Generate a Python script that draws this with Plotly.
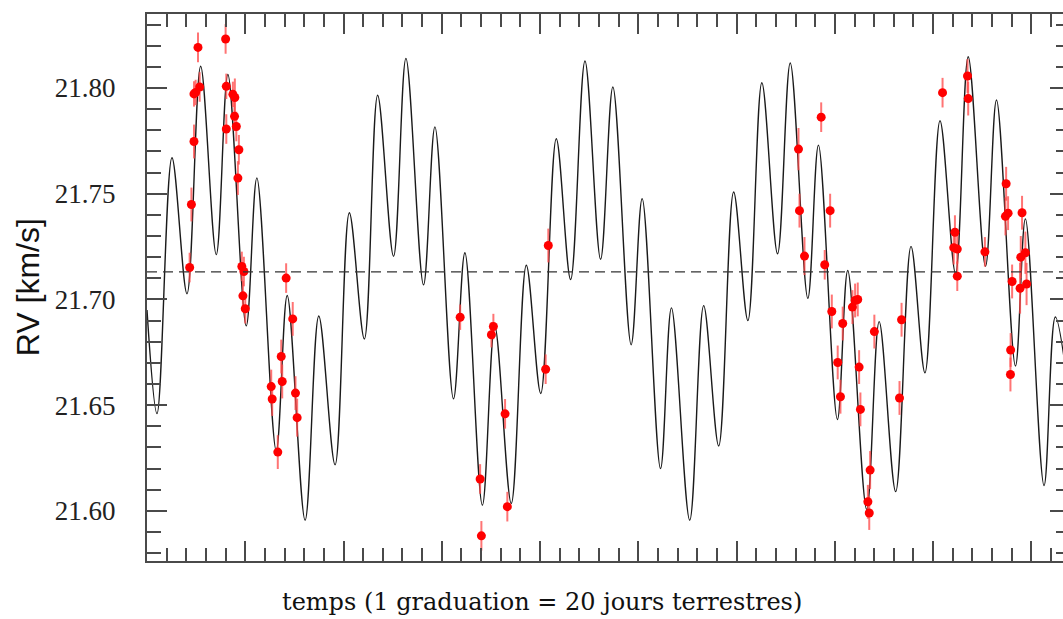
import plotly.graph_objects as go

# ---- model curve (extrema), x in days, RV in km/s
model_days = [0.0, 10.2, 25.4, 40.7, 54.6, 70.5, 82.3, 101.0, 111.8, 131.5, 142.7, 160.9,
              174.8, 191.4, 205.9, 221.2, 234.7, 250.9, 263.5, 281.4, 293.0, 311.9, 323.5,
              341.3, 353.9, 370.7, 386.0, 400.7, 416.5, 431.1, 445.7, 461.6, 474.1, 492.7,
              503.9, 522.6, 533.7, 552.3, 566.5, 581.8, 597.0, 611.5, 625.7, 641.7, 654.6,
              672.5, 683.3, 702.6, 713.1, 732.4, 745.1, 761.9, 777.5, 791.7, 807.0, 822.8,
              835.7, 853.3, 864.5, 883.8, 893.9, 912.9, 924.4, 942.0]
model_rv = [21.695, 21.646, 21.767, 21.7027, 21.8103, 21.7212, 21.8064, 21.6875, 21.7575,
            21.6285, 21.7019, 21.5956, 21.6922, 21.6218, 21.741, 21.6813, 21.7966, 21.7204,
            21.814, 21.7069, 21.7816, 21.653, 21.7221, 21.6027, 21.6875, 21.6035, 21.7162,
            21.6555, 21.776, 21.7094, 21.8128, 21.719, 21.8005, 21.6786, 21.7477, 21.62,
            21.696, 21.5956, 21.6971, 21.6307, 21.7508, 21.690, 21.8025, 21.7216, 21.8118,
            21.7005, 21.773, 21.6432, 21.7137, 21.6007, 21.6895, 21.6091, 21.7251, 21.6653,
            21.7845, 21.7123, 21.8148, 21.7157, 21.7943, 21.6685, 21.7381, 21.612, 21.6917,
            21.64]

# ---- observations
obs_days = [43.4, 45.2, 47.8, 47.8, 49.5, 51.9, 53.6, 80.0, 80.7, 80.7, 87.4, 89.4, 89.1,
            90.9, 93.5, 92.5, 96.5, 98.6, 97.6, 100.0, 126.4, 127.4, 133.1, 136.6, 137.6,
            141.6, 148.3, 151.1, 152.8, 318.7, 339.0, 340.3, 350.5, 352.5, 364.4, 366.7,
            405.7, 408.4, 663.0, 664.0, 669.1, 686.1, 689.7, 695.2, 696.9, 702.9, 705.7,
            708.0, 717.9, 720.6, 723.3, 724.7, 726.0, 733.6, 735.0, 735.9, 740.2, 765.8,
            767.9, 809.6, 822.2, 821.0, 824.6, 824.6, 835.0, 835.7, 852.7, 873.6, 874.3,
            876.3, 878.9, 878.7, 880.4, 888.5, 889.2, 890.5, 893.9, 895.1]
obs_rv = [21.7151, 21.7449, 21.7747, 21.7972, 21.7979, 21.8192, 21.8005, 21.8232, 21.8008,
          21.7806, 21.797, 21.7955, 21.7866, 21.7818, 21.7708, 21.7574, 21.7156, 21.7132,
          21.7017, 21.6956, 21.6588, 21.6529, 21.6278, 21.673, 21.6612, 21.7101, 21.6908,
          21.6557, 21.6441, 21.6916, 21.6151, 21.5882, 21.6833, 21.6872, 21.6459, 21.602,
          21.667, 21.7255, 21.7711, 21.742, 21.7205, 21.7862, 21.7164, 21.742, 21.6943,
          21.6702, 21.654, 21.6886, 21.6964, 21.6995, 21.7, 21.668, 21.648, 21.6043, 21.599,
          21.6193, 21.6848, 21.6534, 21.6904, 21.7978, 21.7318, 21.7245, 21.7238, 21.711,
          21.8057, 21.795, 21.7225, 21.7393, 21.7547, 21.7408, 21.6761, 21.6645, 21.7085,
          21.7053, 21.72, 21.741, 21.7221, 21.7073]
obs_err = [0.007, 0.008, 0.008, 0.006, 0.006, 0.007, 0.007, 0.007, 0.006, 0.007, 0.006,
           0.009, 0.007, 0.007, 0.007, 0.008, 0.007, 0.007, 0.007, 0.007, 0.008, 0.008,
           0.008, 0.008, 0.008, 0.007, 0.008, 0.008, 0.009, 0.006, 0.007, 0.007, 0.006,
           0.006, 0.007, 0.007, 0.007, 0.008, 0.010, 0.008, 0.009, 0.007, 0.007, 0.008,
           0.008, 0.008, 0.008, 0.008, 0.008, 0.008, 0.008, 0.008, 0.008, 0.008, 0.008,
           0.009, 0.008, 0.008, 0.008, 0.007, 0.008, 0.008, 0.007, 0.007, 0.008, 0.008,
           0.007, 0.009, 0.008, 0.008, 0.008, 0.008, 0.008, 0.012, 0.010, 0.008, 0.010,
           0.010]

mean_rv = 21.713
x_range = [0, 939.3]
y_range = [21.5763, 21.835]

AXC = "#4a4a4a"
FIG_W, FIG_H = 1072, 619
L, T, B = 147, 14, 58
PW = FIG_W - L
PH = FIG_H - T - B

fig = go.Figure()
fig.add_trace(go.Scatter(
    x=model_days, y=model_rv, mode="lines",
    line=dict(color="#1a1a1a", width=1.4, shape="spline", smoothing=1.0),
    hoverinfo="skip", showlegend=False))
fig.add_trace(go.Scatter(
    x=obs_days, y=obs_rv, mode="markers",
    marker=dict(color="#ff0000", size=9, line=dict(width=0)),
    error_y=dict(type="data", array=obs_err, visible=True, color="rgba(255,70,70,0.75)",
                 thickness=2, width=0),
    showlegend=False))

fig.add_hline(y=mean_rv, line=dict(color="#333333", width=1.2, dash="10px,6px"))

fig.update_layout(
    width=FIG_W, height=FIG_H,
    margin=dict(l=L, r=0, t=T, b=B),
    plot_bgcolor="white", paper_bgcolor="white",
    xaxis=dict(range=x_range, showgrid=False, zeroline=False, showline=True,
               linecolor=AXC, linewidth=2, mirror="ticks",
               ticks="inside", ticklen=20, tickwidth=1.6, tickcolor=AXC,
               tick0=0, dtick=100, showticklabels=False,
               minor=dict(ticks="inside", dtick=20, ticklen=13, tickwidth=1.6,
                          tickcolor=AXC, showgrid=False)),
    yaxis=dict(range=y_range, showgrid=False, zeroline=False, showline=True,
               linecolor=AXC, linewidth=2, mirror="ticks",
               ticks="inside", ticklen=20, tickwidth=1.6, tickcolor=AXC,
               tick0=21.6, dtick=0.05, tickformat=".2f",
               tickfont=dict(family="Liberation Serif", size=27, color="#222222"),
               ticklabelstandoff=24,
               minor=dict(ticks="inside", dtick=0.01, ticklen=14, tickwidth=1.6,
                          tickcolor=AXC, showgrid=False)),
    annotations=[
        dict(text="RV [km/s]", textangle=-90, xref="paper", yref="paper",
             x=(28 - L) / PW, y=(FIG_H - B - 287) / PH, xanchor="center", yanchor="middle",
             showarrow=False, font=dict(family="Liberation Sans", size=32, color="#111111")),
        dict(text="temps (1 graduation = 20 jours terrestres)", xref="paper", yref="paper",
             x=(543 - L) / PW, y=(FIG_H - B - 602) / PH, xanchor="center", yanchor="middle",
             showarrow=False, font=dict(family="DejaVu Serif", size=24, color="#111111")),
    ],
)

fig.write_html(
    "out.html",
    config={"displayModeBar": False},
    post_script="document.body.style.margin='0px';"
                "document.body.style.overflow='hidden';"
                "document.documentElement.style.overflow='hidden';",
)
